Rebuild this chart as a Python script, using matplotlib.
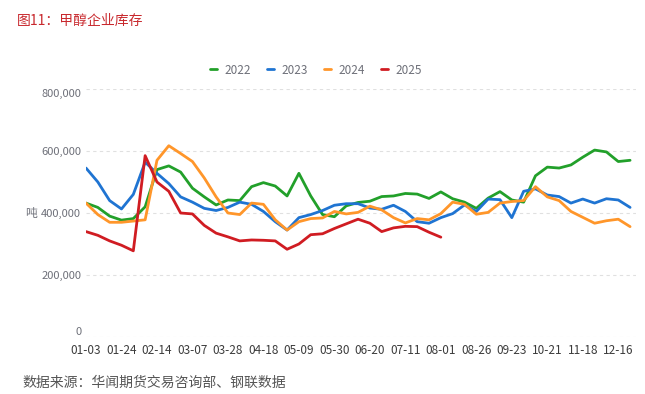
import matplotlib
matplotlib.use('Agg')
import matplotlib.pyplot as plt
from matplotlib.ticker import FuncFormatter

plt.rcParams['font.family'] = ['Noto Sans CJK SC', 'DejaVu Sans']

# weekly categories (mm-dd), labels shown every 3rd
dates = ["01-03", "01-10", "01-17", "01-24", "01-31", "02-07", "02-14", "02-21", "02-28",
         "03-07", "03-14", "03-21", "03-28", "04-04", "04-11", "04-18", "04-25", "05-02",
         "05-09", "05-16", "05-23", "05-30", "06-06", "06-13", "06-20", "06-27", "07-04",
         "07-11", "07-18", "07-25", "08-01", "08-08", "08-15", "08-26", "09-02", "09-12",
         "09-23", "09-30", "10-14", "10-21", "10-28", "11-04", "11-18", "11-25", "12-02",
         "12-16", "12-23"]

# inventory, thousand tonnes
inv_2022 = [432, 418, 390, 377, 382, 420, 540, 552, 532, 480, 452, 426, 442, 440, 485, 498,
            487, 455, 528, 455, 395, 388, 423, 434, 438, 453, 455, 463, 461, 447, 468, 446,
            435, 415, 448, 469, 442, 435, 520, 548, 545, 555, 580, 603, 597, 566, 570]
inv_2023 = [545, 500, 440, 413, 460, 564, 528, 495, 452, 435, 415, 408, 418, 435, 428, 405,
            372, 345, 385, 395, 408, 425, 430, 430, 416, 412, 425, 405, 372, 367, 385, 398,
            426, 405, 445, 443, 385, 470, 478, 458, 453, 432, 445, 432, 446, 442, 418]
inv_2024 = [432, 395, 370, 370, 374, 378, 570, 617, 592, 566, 513, 452, 400, 395, 432, 428,
            378, 345, 372, 382, 384, 405, 397, 402, 422, 410, 385, 368, 382, 378, 398, 435,
            428, 396, 402, 432, 437, 440, 485, 452, 440, 405, 386, 367, 375, 380, 356]
inv_2025 = [340, 328, 310, 296, 278, 585, 500, 470, 400, 397, 360, 335, 323, 310, 313, 312,
            310, 283, 300, 330, 333, 350, 365, 380, 367, 340, 352, 357, 356, 338, 322]

series = [("2022", inv_2022, "#22a02a"),
          ("2023", inv_2023, "#1f74d2"),
          ("2024", inv_2024, "#ff962a"),
          ("2025", inv_2025, "#d01c22")]

fig = plt.figure(figsize=(6.45, 3.94), dpi=100)
ax = fig.add_axes([86 / 645, 1 - 337 / 394, 550 / 645, 248 / 394])

for name, vals, color in series:
    ax.plot(range(len(vals)), [v * 1000 for v in vals], color=color, lw=2.0,
            label=name, solid_joinstyle='round', solid_capstyle='round')

ax.set_xlim(0, 46.5)
ax.set_ylim(0, 800000)
ax.set_yticks([0, 200000, 400000, 600000, 800000])
ax.yaxis.set_major_formatter(FuncFormatter(lambda v, p: f"{v:,.0f}"))
ax.set_xticks(range(0, len(dates), 3))
ax.set_xticklabels(dates[::3])

for s in ax.spines.values():
    s.set_visible(False)
ax.grid(axis='y', color='#e0e0e0', ls=(0, (3, 3)), lw=0.8)
ax.set_axisbelow(True)
ax.tick_params(axis='both', length=0)
ax.tick_params(axis='x', labelsize=8.5, labelcolor='#3c3c3c', pad=5)
ax.tick_params(axis='y', labelsize=8, labelcolor='#6e7079', pad=3.5)
ylabels = ax.get_yticklabels()
ylabels[0].set_va('bottom')
ylabels[-1].set_va('top')

fig.text(31 / 645, 1 - 214 / 394, "吨", ha='center', va='center', fontsize=8.5, color='#6e7079')

fig.text(17 / 645, 1 - 21 / 394, "图11：甲醇企业库存", ha='left', va='center',
         fontsize=10, color='#c8282d')
fig.text(22 / 645, 1 - 383 / 394, "数据来源：华闻期货交易咨询部、钢联数据", ha='left', va='center',
         fontsize=10, color='#555555')

leg = fig.legend(loc='center', bbox_to_anchor=(316 / 645, 1 - 70 / 394), ncol=4, frameon=False,
                 fontsize=8.5, handlelength=0.6, handletextpad=0.6, columnspacing=1.4)
for t in leg.get_texts():
    t.set_color('#6e7079')

plt.savefig("out.png", dpi=100)
